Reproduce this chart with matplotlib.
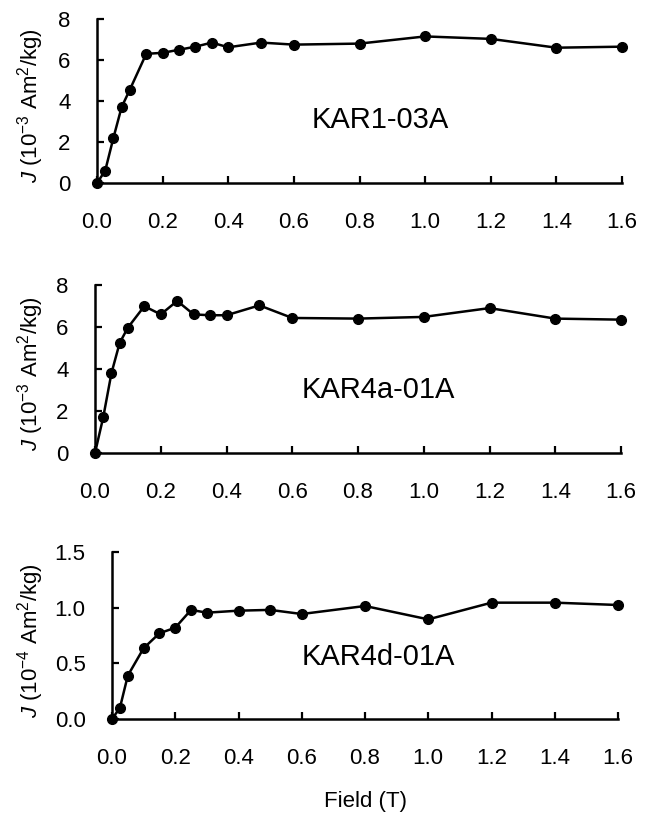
import matplotlib
matplotlib.use("Agg")
import matplotlib.pyplot as plt
from matplotlib.ticker import FormatStrFormatter

plt.rcParams['font.family'] = ['Liberation Sans', 'DejaVu Sans']
plt.rcParams['mathtext.fontset'] = 'custom'
plt.rcParams['mathtext.rm'] = 'Liberation Sans'
plt.rcParams['mathtext.it'] = 'Liberation Sans:italic'

# Panel 1: KAR1-03A (10^-3 Am^2/kg)
field_1 = [0.0, 0.025, 0.05, 0.075, 0.1, 0.15, 0.2, 0.25, 0.3, 0.35, 0.4, 0.5, 0.6, 0.8, 1.0, 1.2, 1.4, 1.6]
j_1 = [0.0, 0.6, 2.2, 3.7, 4.55, 6.3, 6.35, 6.5, 6.65, 6.85, 6.62, 6.85, 6.75, 6.8, 7.15, 7.03, 6.6, 6.65]

# Panel 2: KAR4a-01A (10^-3 Am^2/kg)
field_2 = [0.0, 0.025, 0.05, 0.075, 0.1, 0.15, 0.2, 0.25, 0.3, 0.35, 0.4, 0.5, 0.6, 0.8, 1.0, 1.2, 1.4, 1.6]
j_2 = [0.0, 1.7, 3.8, 5.24, 5.97, 6.99, 6.6, 7.24, 6.6, 6.56, 6.56, 7.03, 6.43, 6.4, 6.48, 6.9, 6.4, 6.35]

# Panel 3: KAR4d-01A (10^-4 Am^2/kg)
field_3 = [0.0, 0.025, 0.05, 0.1, 0.15, 0.2, 0.25, 0.3, 0.4, 0.5, 0.6, 0.8, 1.0, 1.2, 1.4, 1.6]
j_3 = [0.0, 0.1, 0.39, 0.636, 0.77, 0.82, 0.98, 0.955, 0.973, 0.98, 0.943, 1.015, 0.895, 1.045, 1.045, 1.024]

x_ticks = [0.0, 0.2, 0.4, 0.6, 0.8, 1.0, 1.2, 1.4, 1.6]
panels = [
    dict(x=field_1, y=j_1, name="KAR1-03A", ylabel=r"$J$ (10$^{-3}$ Am$^2$/kg)",
         yticks=[0, 2, 4, 6, 8], ylim=8, fmt="%d", px=(97, 622, 19, 183), txt=(0.655, 3.05)),
    dict(x=field_2, y=j_2, name="KAR4a-01A", ylabel=r"$J$ (10$^{-3}$ Am$^2$/kg)",
         yticks=[0, 2, 4, 6, 8], ylim=8, fmt="%d", px=(95, 621, 285, 453), txt=(0.63, 3.0)),
    dict(x=field_3, y=j_3, name="KAR4d-01A", ylabel=r"$J$ (10$^{-4}$ Am$^2$/kg)",
         yticks=[0.0, 0.5, 1.0, 1.5], ylim=1.5, fmt="%.1f", px=(112, 618, 552, 719), txt=(0.60, 0.555)),
]

W, H = 650, 816
fig = plt.figure(figsize=(W / 100, H / 100), dpi=100)

for p in panels:
    l, r, t, b = p['px']
    ax = fig.add_axes([l / W, 1 - b / H, (r - l) / W, (b - t) / H])
    ax.plot(p['x'], p['y'], color='black', lw=1.8, marker='o', ms=7, clip_on=False, zorder=3)
    ax.set_xlim(0, 1.6)
    ax.set_ylim(0, p['ylim'])
    ax.set_xticks(x_ticks)
    ax.xaxis.set_major_formatter(FormatStrFormatter("%.1f"))
    ax.set_yticks(p['yticks'])
    ax.yaxis.set_major_formatter(FormatStrFormatter(p['fmt']))
    for s in ['top', 'right']:
        ax.spines[s].set_visible(False)
    for s in ['left', 'bottom']:
        ax.spines[s].set_linewidth(1.8)
    ax.tick_params(axis='x', direction='in', length=5, width=1.6, pad=21, labelsize=16)
    ax.tick_params(axis='y', direction='in', length=5, width=1.6, pad=19, labelsize=16)
    ax.set_ylabel(p['ylabel'], fontsize=16)
    ax.yaxis.set_label_coords((46 - l) / (r - l), 0.47)
    ax.text(p['txt'][0], p['txt'][1], p['name'], fontsize=21, ha='left', va='center')

fig.text(366 / W, 1 - 802 / H, "Field (T)", fontsize=16, ha='center', va='center')

fig.savefig("out.png", dpi=100)
